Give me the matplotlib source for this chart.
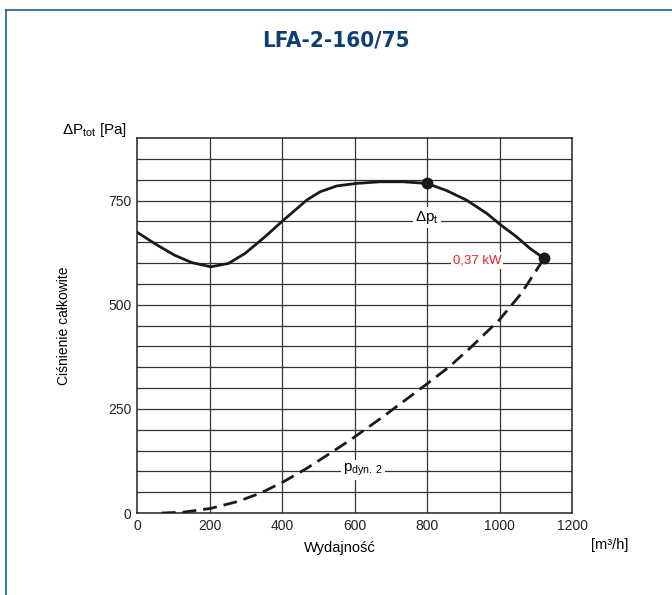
import matplotlib.pyplot as plt
import matplotlib.lines as mlines

plt.rcParams['font.family'] = ['Liberation Sans', 'DejaVu Sans']
plt.rcParams['mathtext.fontset'] = 'custom'
plt.rcParams['mathtext.rm'] = 'Liberation Sans'
plt.rcParams['mathtext.it'] = 'Liberation Sans'
plt.rcParams['mathtext.default'] = 'regular'

# total pressure curve
flow_pt = [0, 50, 103, 151, 204, 252, 298, 353, 404, 431, 468, 505, 551, 604,
           670, 735, 800, 854, 909, 965, 1004, 1047, 1084, 1123]
dp_total = [674, 646, 619, 601, 591, 599, 623, 663, 703, 723, 751, 771, 785, 791,
            795, 795, 791, 774, 751, 719, 691, 663, 635, 611]

# dynamic pressure curve
flow_dyn = [68, 128, 203, 275, 339, 404, 468, 532, 588, 680, 800, 860, 920,
            1000, 1060, 1123]
p_dyn = [0, 2, 11, 27, 47, 75, 107, 143, 175, 232, 310, 350, 397,
         464, 527, 611]

# marked operating points
mark_x = [800, 1123]
mark_y = [791, 611]

x_ticks = [0, 200, 400, 600, 800, 1000, 1200]
y_ticks = [0, 250, 500, 750]

fig = plt.figure(figsize=(6.72, 5.95), dpi=100)
ax = fig.add_axes([0.2039, 0.1378, 0.6473, 0.6302])

# frame of the page
fig.add_artist(mlines.Line2D([6/672, 1], [1 - 10/595, 1 - 10/595], color='#1f5a94', lw=1.2))
fig.add_artist(mlines.Line2D([6/672, 6/672], [0, 1 - 10/595], color='#1f5a94', lw=1.2))

fig.text(0.5, 1 - 40/595, 'LFA-2-160/75', ha='center', va='center', fontsize=16,
         fontweight='bold', color='#0d3f73', family='DejaVu Sans', fontstretch='condensed')

ax.set_xlim(0, 1200)
ax.set_ylim(0, 900)
for xv in range(200, 1200, 200):
    ax.axvline(xv, color='#333333', lw=0.9, zorder=1)
for yv in range(50, 900, 50):
    ax.axhline(yv, color='#333333', lw=0.9, zorder=1)
for s in ax.spines.values():
    s.set_color('#222222')
    s.set_linewidth(1.1)

ax.plot(flow_pt, dp_total, color='#1a1a1a', lw=2.0, zorder=3, solid_joinstyle='round')
ax.plot(flow_dyn, p_dyn, color='#1a1a1a', lw=2.0, dashes=(5, 2.5), zorder=3)
ax.plot(mark_x, mark_y, 'o', color='#1a1a1a', ms=7.5, zorder=4)

box = dict(facecolor='white', edgecolor='none', pad=1.5)
ax.text(800, 709, r'$\Delta$p$_t$', ha='center', va='center', fontsize=11, bbox=box, zorder=2)
ax.text(938, 606, '0,37 kW', ha='center', va='center', fontsize=9.5, color='#e8202a', bbox=box, zorder=2)
ax.text(623, 103, 'p$_{dyn.\\,2}$', ha='center', va='center', fontsize=11, bbox=box, zorder=2)

ax.set_xticks(x_ticks)
ax.set_yticks(y_ticks)
ax.tick_params(length=0, labelsize=10, pad=4, colors='#222222')

ax.set_ylabel('Ciśnienie całkowite', fontsize=10, labelpad=27)
fig.text(62/672, 1 - 130/595, r'$\Delta$P$_{tot}$ [Pa]', ha='left', va='center', fontsize=11)
fig.text(340/672, 1 - 548/595, 'Wydajność', ha='center', va='center', fontsize=10.5)
fig.text(610/672, 1 - 545/595, '[m³/h]', ha='center', va='center', fontsize=10.5)

fig.savefig('out.png', dpi=100)
